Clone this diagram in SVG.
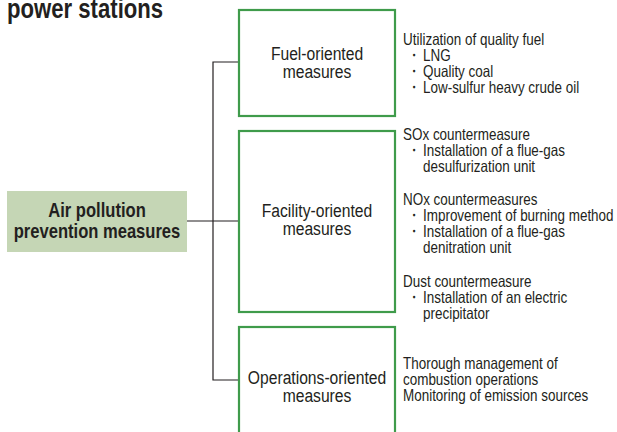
<svg xmlns="http://www.w3.org/2000/svg" width="617" height="432" viewBox="0 0 617 432">
<style>
text{font-family:"Liberation Sans",Arial,sans-serif;fill:#231f20}
.box{fill:#fff;stroke:#3f9b4b;stroke-width:2.2}
.lbl{font-size:18px;text-anchor:middle}
.t{font-size:16.5px}
.conn{fill:none;stroke:#231f20;stroke-width:1.2}
</style>
<rect width="617" height="432" fill="#fff"/>
<text transform="translate(7 18) scale(0.82 1)" style="font-size:27px;font-weight:bold">power stations</text>
<g id="connectors">
<path class="conn" d="M239 62H213V380H239M187 221H239"/>
</g>
<g id="root">
<rect x="7" y="191" width="180" height="61" fill="#c5d6b5"/>
<text transform="translate(97 217) scale(0.85 1)" style="font-size:19.5px;font-weight:bold;text-anchor:middle">Air pollution</text>
<text transform="translate(97 238) scale(0.85 1)" style="font-size:19.5px;font-weight:bold;text-anchor:middle">prevention measures</text>
</g>
<g id="fuel">
<rect class="box" x="239" y="10" width="156" height="106"/>
<text class="lbl" transform="translate(317 60) scale(0.87 1)">Fuel-oriented</text>
<text class="lbl" transform="translate(317 78) scale(0.87 1)">measures</text>
</g>
<g id="facility">
<rect class="box" x="239" y="131" width="156" height="181"/>
<text class="lbl" transform="translate(317 217) scale(0.87 1)">Facility-oriented</text>
<text class="lbl" transform="translate(317 235) scale(0.87 1)">measures</text>
</g>
<g id="operations">
<rect class="box" x="239" y="327" width="156" height="120"/>
<text class="lbl" transform="translate(317 384) scale(0.87 1)">Operations-oriented</text>
<text class="lbl" transform="translate(317 402) scale(0.87 1)">measures</text>
</g>
<g id="fuel-notes" class="t">
<text transform="translate(403 45) scale(0.815 1)">Utilization of quality fuel</text>
<text transform="translate(407 61) scale(0.815 1)">・</text><text transform="translate(423 61) scale(0.815 1)">LNG</text>
<text transform="translate(407 77) scale(0.815 1)">・</text><text transform="translate(423 77) scale(0.815 1)">Quality coal</text>
<text transform="translate(407 93) scale(0.815 1)">・</text><text transform="translate(423 93) scale(0.815 1)">Low-sulfur heavy crude oil</text>
</g>
<g id="facility-notes" class="t">
<text transform="translate(403 140) scale(0.815 1)">SOx countermeasure</text>
<text transform="translate(407 156) scale(0.815 1)">・</text><text transform="translate(423 156) scale(0.815 1)">Installation of a flue-gas</text>
<text transform="translate(423 172) scale(0.815 1)">desulfurization unit</text>
<text transform="translate(403 205) scale(0.815 1)">NOx countermeasures</text>
<text transform="translate(407 221) scale(0.815 1)">・</text><text transform="translate(423 221) scale(0.815 1)">Improvement of burning method</text>
<text transform="translate(407 237) scale(0.815 1)">・</text><text transform="translate(423 237) scale(0.815 1)">Installation of a flue-gas</text>
<text transform="translate(423 253) scale(0.815 1)">denitration unit</text>
<text transform="translate(403 287) scale(0.815 1)">Dust countermeasure</text>
<text transform="translate(407 303) scale(0.815 1)">・</text><text transform="translate(423 303) scale(0.815 1)">Installation of an electric</text>
<text transform="translate(423 319) scale(0.815 1)">precipitator</text>
</g>
<g id="operations-notes" class="t">
<text transform="translate(403 369) scale(0.815 1)">Thorough management of</text>
<text transform="translate(403 385) scale(0.815 1)">combustion operations</text>
<text transform="translate(403 401) scale(0.815 1)">Monitoring of emission sources</text>
</g>
</svg>
